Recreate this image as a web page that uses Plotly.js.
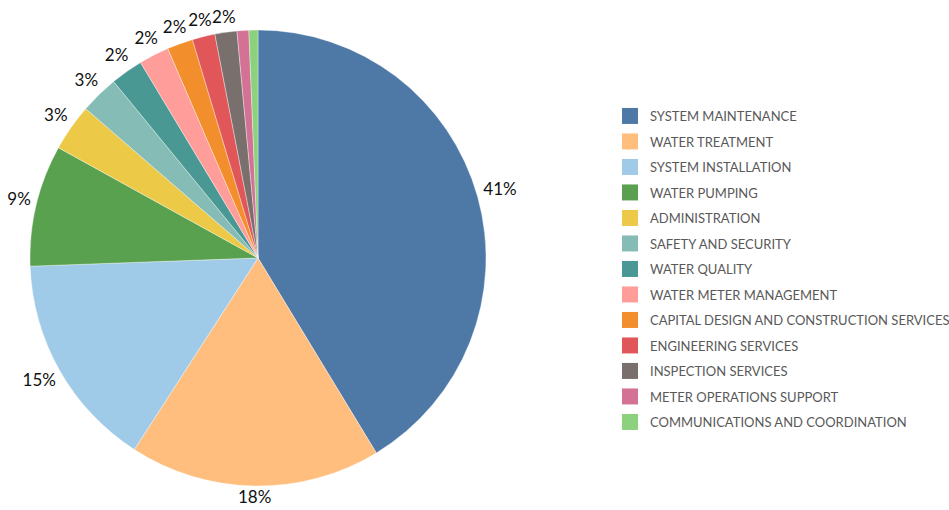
<!DOCTYPE html>
<html>
<head>
<meta charset="utf-8">
<script src="https://cdn.plot.ly/plotly-3.0.1.min.js"></script>
<style>html,body{margin:0;padding:0;background:#fff;}#chart{width:949px;height:510px;}</style>
</head>
<body>
<div id="chart"></div>
<script>
var categories = [
  "SYSTEM MAINTENANCE",
  "WATER TREATMENT",
  "SYSTEM INSTALLATION",
  "WATER PUMPING",
  "ADMINISTRATION",
  "SAFETY AND SECURITY",
  "WATER QUALITY",
  "WATER METER MANAGEMENT",
  "CAPITAL DESIGN AND CONSTRUCTION SERVICES",
  "ENGINEERING SERVICES",
  "INSPECTION SERVICES",
  "METER OPERATIONS SUPPORT",
  "COMMUNICATIONS AND COORDINATION"
];
var shares = [41.3, 17.8, 15.3, 8.6, 3.33, 2.72, 2.3, 2.14, 1.83, 1.61, 1.56, 0.83, 0.64];
var colors = ["#4e79a7", "#ffbe7d", "#a0cbe8", "#59a14f", "#edc948", "#86bcb6", "#499894",
              "#ff9d9a", "#f28e2b", "#e15759", "#79706e", "#d37295", "#8cd17d"];
var showLabel = [true, true, true, true, true, true, true, true, true, true, true, false, false];

// page geometry (pixels)
var W = 949, H = 510;
var CX = 258, CY = 258, R = 228;      // pie centre and radius
var LABEL_SIZE = 17;                  // label font size
var LABEL_GAP = 4.5;                  // gap between rim and label box
var POLAR_MAX = 1.104;                // radial range of the label layer
var PR = R * POLAR_MAX;

// label angles and texts, derived from the shares; each label box sits just outside the rim
var total = shares.reduce(function (a, b) { return a + b; }, 0);
var labelTheta = [], labelText = [], labelR = [];
var cum = 0;
shares.forEach(function (v, i) {
  var theta = (cum + v / 2) / total * 360;
  var txt = showLabel[i] ? Math.round(v / total * 100) + "%" : "";
  var rad = theta * Math.PI / 180;
  var halfW = txt.length * 0.68 * LABEL_SIZE / 2;
  var halfH = 0.47 * LABEL_SIZE;
  var reach = halfW * Math.abs(Math.sin(rad)) + halfH * Math.abs(Math.cos(rad));
  labelTheta.push(theta);
  labelText.push(txt);
  labelR.push(Math.min((R + LABEL_GAP + reach) / R, POLAR_MAX - 0.0005));
  cum += v;
});

var traces = [{
  type: "pie",
  labels: categories,
  values: shares,
  sort: false,
  direction: "clockwise",
  rotation: 0,
  marker: {colors: colors, line: {color: "rgba(255,255,255,0.6)", width: 0.6}},
  textposition: "none",
  showlegend: false,
  domain: {x: [(CX - R) / W, (CX + R) / W], y: [1 - (CY + R) / H, 1 - (CY - R) / H]},
  hoverinfo: "label+percent"
}, {
  type: "scatterpolar",
  mode: "text",
  r: labelR,
  theta: labelTheta,
  text: labelText,
  textposition: "middle center",
  textfont: {family: "Lato, 'Open Sans', sans-serif", size: LABEL_SIZE, color: "#111"},
  cliponaxis: false,
  showlegend: false,
  hoverinfo: "skip"
}];

categories.forEach(function (c, i) {
  traces.push({
    type: "scatter",
    mode: "markers",
    x: [null], y: [null],
    name: c,
    legendgroup: "g" + i,
    marker: {symbol: "square", size: 16, color: colors[i]},
    showlegend: true,
    hoverinfo: "skip"
  });
});

var layout = {
  width: W,
  height: H,
  margin: {l: 0, r: 0, t: 0, b: 0, autoexpand: false},
  paper_bgcolor: "#ffffff",
  plot_bgcolor: "#ffffff",
  xaxis: {visible: false},
  yaxis: {visible: false},
  polar: {
    domain: {x: [(CX - PR) / W, (CX + PR) / W], y: [1 - (CY + PR) / H, 1 - (CY - PR) / H]},
    bgcolor: "rgba(0,0,0,0)",
    radialaxis: {visible: false, range: [0, POLAR_MAX], showgrid: false},
    angularaxis: {visible: false, rotation: 90, direction: "clockwise", showgrid: false}
  },
  showlegend: true,
  legend: {
    x: 610 / W,
    xanchor: "left",
    y: 1 - 101 / H,
    yanchor: "top",
    tracegroupgap: 5.6,
    font: {family: "Lato, 'Open Sans', sans-serif", size: 13, color: "#595959"},
    bgcolor: "rgba(0,0,0,0)"
  }
};

Plotly.newPlot("chart", traces, layout, {displayModeBar: false, staticPlot: true});
</script>
</body>
</html>
